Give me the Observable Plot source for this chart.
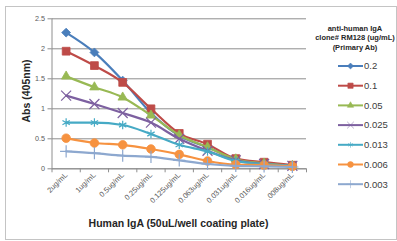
<!DOCTYPE html>
<html><head><meta charset="utf-8">
<script src="https://cdn.jsdelivr.net/npm/d3@7"></script>
<script src="https://cdn.jsdelivr.net/npm/@observablehq/plot@0.6"></script>
<style>
html,body{margin:0;padding:0;background:#fff;}
#wrap{position:relative;width:397px;height:241px;overflow:hidden;font-family:"Liberation Sans",Arial,sans-serif;}
#frame{position:absolute;left:5px;top:6px;width:392px;height:234px;border:1px solid #c4c4c4;box-sizing:border-box;}
#wrap svg{position:absolute;left:0;top:0;}
</style></head><body><div id="wrap"><div id="frame"></div></div>
<script>
// ---- data ----
const concentrations = ["2ug/mL","1ug/mL","0.5ug/mL","0.25ug/mL","0.125ug/mL","0.063ug/mL","0.031ug/mL","0.016ug/mL",".008ug/mL"];
const seriesNames = ["0.2","0.1","0.05","0.025","0.013","0.006","0.003"];
const abs_0_2   = [2.27, 1.94, 1.47, 0.93, 0.55, 0.36, 0.16, 0.09, 0.05];
const abs_0_1   = [1.96, 1.72, 1.44, 1.00, 0.59, 0.41, 0.17, 0.11, 0.06];
const abs_0_05  = [1.54, 1.36, 1.19, 0.89, 0.56, 0.36, 0.16, 0.09, 0.05];
const abs_0_025 = [1.22, 1.08, 0.93, 0.77, 0.50, 0.30, 0.14, 0.08, 0.05];
const abs_0_013 = [0.77, 0.77, 0.73, 0.58, 0.40, 0.29, 0.13, 0.08, 0.05];
const abs_0_006 = [0.51, 0.43, 0.40, 0.33, 0.24, 0.13, 0.07, 0.06, 0.04];
const abs_0_003 = [0.29, 0.26, 0.22, 0.20, 0.14, 0.08, 0.05, 0.04, 0.03];
const yTicks = [0, 0.5, 1, 1.5, 2, 2.5];
const legendTitle = ["anti-human IgA", "clone# RM128 (ug/mL)", "(Primary Ab)"];
const xTitle = "Human IgA (50uL/well coating plate)";
const yTitle = "Abs (405nm)";

// ---- styles ----
const seriesValues = [abs_0_2, abs_0_1, abs_0_05, abs_0_025, abs_0_013, abs_0_006, abs_0_003];
const colors = ["#4A7EBB", "#BE4B48", "#98B954", "#7D60A0", "#46AAC5", "#F69240", "#8DA8CF"];
const symbols = ["diamond2", "square", "triangle", "times", "asterisk", "circle", "plus"];
const filled = [true, true, true, false, false, true, false];
const radii = [4.0, 4.4, 3.5, 4.6, 4.0, 4.3, 4.0];
const FONT = '"Liberation Sans", Arial, sans-serif';

const data = seriesNames.flatMap((s, si) => seriesValues[si].map((v, i) => ({series: s, i, v})));

const marks = [
  Plot.gridY(yTicks, {stroke: "#8e8e8e", strokeOpacity: 1, strokeWidth: 1}),
  Plot.ruleY([0], {stroke: "#8e8e8e", strokeWidth: 1}),
  Plot.ruleX([-0.5], {stroke: "#8e8e8e", strokeWidth: 1}),
  Plot.axisY(yTicks, {tickSize: 4, tickPadding: 3, stroke: "#8e8e8e", fill: "#595959", fontSize: 7.2, tickFormat: d => String(d), label: null}),
  Plot.axisX(d3.range(-0.5, 9, 1), {tickSize: 4, stroke: "#8e8e8e", tickFormat: () => "", label: null}),
  Plot.axisX(d3.range(0, 9), {tickSize: 0, tickPadding: 5, tickRotate: -45, fill: "#595959", fontSize: 7.5, tickFormat: i => concentrations[i], label: null})
];
seriesNames.forEach((s, si) => {
  const d = data.filter(r => r.series === s);
  marks.push(Plot.line(d, {x: "i", y: "v", stroke: colors[si], strokeWidth: 2.2, curve: "monotone-x"}));
  marks.push(Plot.dot(d, {x: "i", y: "v", symbol: symbols[si], r: radii[si],
    fill: filled[si] ? colors[si] : "none", stroke: colors[si], strokeWidth: filled[si] ? 0.8 : 1.2}));
});

const chart = Plot.plot({
  width: 397, height: 241,
  marginLeft: 51.5, marginRight: 91, marginTop: 18.3, marginBottom: 72.7,
  x: {domain: [-0.5, 8.5], axis: null},
  y: {domain: [0, 2.5], axis: null},
  style: {fontFamily: FONT, background: "transparent", overflow: "visible"},
  marks
});
document.getElementById("wrap").appendChild(chart);

// ---- titles + legend overlay ----
const svg = d3.select("#wrap").append("svg").attr("width", 397).attr("height", 241)
  .style("font-family", FONT).style("pointer-events", "none");
svg.append("text").attr("x", 178.5).attr("y", 226.5).attr("text-anchor", "middle")
  .attr("font-size", 10.5).attr("font-weight", "bold").attr("fill", "#262626").text(xTitle);
svg.append("text").attr("transform", "translate(30,91) rotate(-90)").attr("text-anchor", "middle")
  .attr("font-size", 10.5).attr("font-weight", "bold").attr("fill", "#262626").text(yTitle);
legendTitle.forEach((t, k) => {
  svg.append("text").attr("x", 355).attr("y", 30.5 + k * 9.6).attr("text-anchor", "middle")
    .attr("font-size", 7.5).attr("font-weight", "bold").attr("fill", "#262626").text(t);
});
const symMap = {diamond2: d3.symbolDiamond2, square: d3.symbolSquare, triangle: d3.symbolTriangle,
  times: d3.symbolTimes, asterisk: d3.symbolAsterisk, circle: d3.symbolCircle, plus: d3.symbolPlus};
seriesNames.forEach((s, si) => {
  const y = 66 + si * 19.7;
  const g = svg.append("g");
  g.append("line").attr("x1", 338).attr("x2", 363).attr("y1", y).attr("y2", y)
    .attr("stroke", colors[si]).attr("stroke-width", 2);
  g.append("path").attr("transform", `translate(350.5,${y})`)
    .attr("d", d3.symbol(symMap[symbols[si]], Math.PI * radii[si] * radii[si] * 0.45)())
    .attr("fill", filled[si] ? colors[si] : "none").attr("stroke", colors[si]).attr("stroke-width", filled[si] ? 0.6 : 0.9)
    .attr("stroke-opacity", filled[si] ? 1 : 0.6);
  g.append("text").attr("x", 364).attr("y", y).attr("dy", "0.35em")
    .attr("font-size", 9.5).attr("fill", "#404040").text(s);
});
</script></body></html>
